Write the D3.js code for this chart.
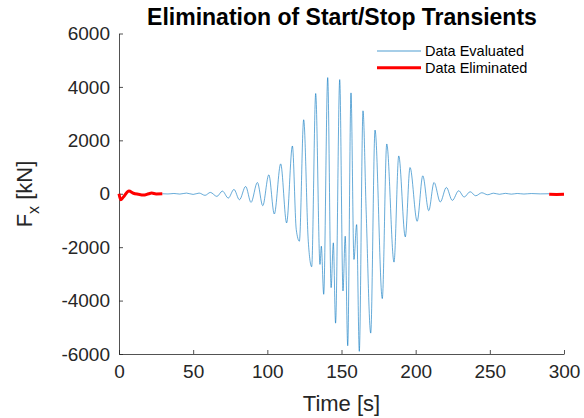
<!DOCTYPE html>
<html>
<head>
<meta charset="utf-8">
<script src="https://cdn.jsdelivr.net/npm/d3@7"></script>
<style>
  body { margin: 0; background: #fff; }
  text { font-family: "Liberation Sans", Arial, sans-serif; fill: #262626; }
</style>
</head>
<body>
<script>
// data (time in s, force in kN)
var evalTime = [29.2, 33, 37, 41, 45.5, 50, 54, 58, 61.6, 66, 69.7, 73.7, 77.5, 81.2, 85.4, 89, 93.3, 96.9,
  101, 104.7, 109, 113, 116.9, 119.5, 121.6, 124.5, 127.6, 129.9, 132.6, 135.5, 136.4, 138, 140.7,
  143, 144.5, 146, 148.8, 151, 152.5, 154.2, 156.4, 158.4, 160.2, 162, 164.5, 166.6, 169.7, 172.6,
  177.5, 180.5, 185.4, 188.6, 193, 196.2, 201, 204.8, 208.8, 212.4, 216.6, 220.7, 224.7, 229,
  232.7, 236.7, 240.5, 244.6, 248.5, 252.5, 256.5, 260.5, 264.5, 268.5, 273, 278, 284, 290];
var evalForce = [0, -8, 10, -12, 25, -25, 25, -60, 50, -100, 100, -162, 162, -224, 273, -323, 422, -447,
  708, -758, 1118, -1093, 1789, -1342, -1777, 2770, -1777, -2733, 3753, -2646, -1964, -3764, 4349,
  -3515, -1838, -4845, 4274, -3640, -1590, -5690, 3776, -2460, -1155, -5900, 3105, -600, -5218, 2385,
  -3925, 1864, -2560, 1416, -1615, 981, -1031, 671, -634, 422, -310, 236, -249, 112,
  -124, 75, -75, 37, -37, 20, -20, 15, -15, 10, -10, 8, -5, 0];

var startTime = [0, 1.1, 3, 6.7, 9.7, 13, 16.4, 20, 22, 25, 29.2];
var startForce = [0, -224, -120, 100, 20, -20, -50, 0, 25, -5, 0];

var endTime = [290, 295, 300];
var endForce = [-20, -25, -20];

var xTicks = [0, 50, 100, 150, 200, 250, 300];
var yTicks = [-6000, -4000, -2000, 0, 2000, 4000, 6000];

var W = 584, H = 418;
var plotLeft = 119, plotRight = 564, plotTop = 33.5, plotBottom = 354;

var svg = d3.select('body').append('svg')
  .attr('width', W)
  .attr('height', H);

var x = d3.scaleLinear().domain([0, 300]).range([plotLeft, plotRight]);
var y = d3.scaleLinear().domain([-6000, 6000]).range([plotBottom, plotTop]);

var line = d3.line()
  .x(function(d) { return x(d[0]); })
  .y(function(d) { return y(d[1]); })
  .curve(d3.curveMonotoneX);

function pairs(t, v) {
  return t.map(function(d, i) { return [d, v[i]]; });
}

// plain hyphen minus like matlab
var plain = function(d) { return String(d); };

// axes
var xAxis = svg.append('g')
  .attr('transform', 'translate(0,' + plotBottom + ')')
  .call(d3.axisBottom(x).tickValues(xTicks).tickFormat(plain)
    .tickSizeInner(-4).tickSizeOuter(0).tickPadding(11));

var yAxis = svg.append('g')
  .attr('transform', 'translate(' + plotLeft + ',0)')
  .call(d3.axisLeft(y).tickValues(yTicks).tickFormat(plain)
    .tickSizeInner(-4).tickSizeOuter(0).tickPadding(9));

[xAxis, yAxis].forEach(function(a) {
  a.selectAll('path, line').attr('stroke', '#262626').attr('stroke-width', 0.8);
  a.selectAll('text')
    .style('font-size', '19px')
    .style('font-family', '"Liberation Sans", Arial, sans-serif')
    .attr('fill', '#262626');
});

// series
svg.append('path')
  .datum(pairs(evalTime, evalForce))
  .attr('d', line)
  .attr('fill', 'none')
  .attr('stroke', '#0072BD')
  .attr('stroke-width', 0.6);

svg.append('path')
  .datum(pairs(startTime, startForce))
  .attr('d', line)
  .attr('fill', 'none')
  .attr('stroke', '#FF0000')
  .attr('stroke-width', 3);

svg.append('path')
  .datum(pairs(endTime, endForce))
  .attr('d', line)
  .attr('fill', 'none')
  .attr('stroke', '#FF0000')
  .attr('stroke-width', 3);

// title and labels
svg.append('text')
  .attr('x', 342)
  .attr('y', 25)
  .attr('text-anchor', 'middle')
  .style('font-size', '23px')
  .style('font-weight', 'bold')
  .style('fill', '#000')
  .text('Elimination of Start/Stop Transients');

svg.append('text')
  .attr('x', (plotLeft + plotRight) / 2)
  .attr('y', 411)
  .attr('text-anchor', 'middle')
  .style('font-size', '22px')
  .text('Time [s]');

var ylab = svg.append('text')
  .attr('transform', 'translate(32,194) rotate(-90)')
  .attr('text-anchor', 'middle')
  .style('font-size', '22px');
ylab.append('tspan').text('F');
ylab.append('tspan').attr('dy', 7).style('font-size', '16px').text('x');
ylab.append('tspan').attr('dy', -7).text(' [kN]');

// legend
var legend = svg.append('g');
var legendItems = [
  { name: 'Data Evaluated', color: '#0072BD', width: 0.7 },
  { name: 'Data Eliminated', color: '#FF0000', width: 3 }
];
legendItems.forEach(function(d, i) {
  var ly = 51 + i * 16.7;
  legend.append('line')
    .attr('x1', 377).attr('x2', 421)
    .attr('y1', ly).attr('y2', ly)
    .attr('stroke', d.color)
    .attr('stroke-width', d.width);
  legend.append('text')
    .attr('x', 425)
    .attr('y', ly)
    .attr('dy', '0.35em')
    .style('font-size', '14.5px')
    .style('fill', '#000')
    .text(d.name);
});
</script>
</body>
</html>
